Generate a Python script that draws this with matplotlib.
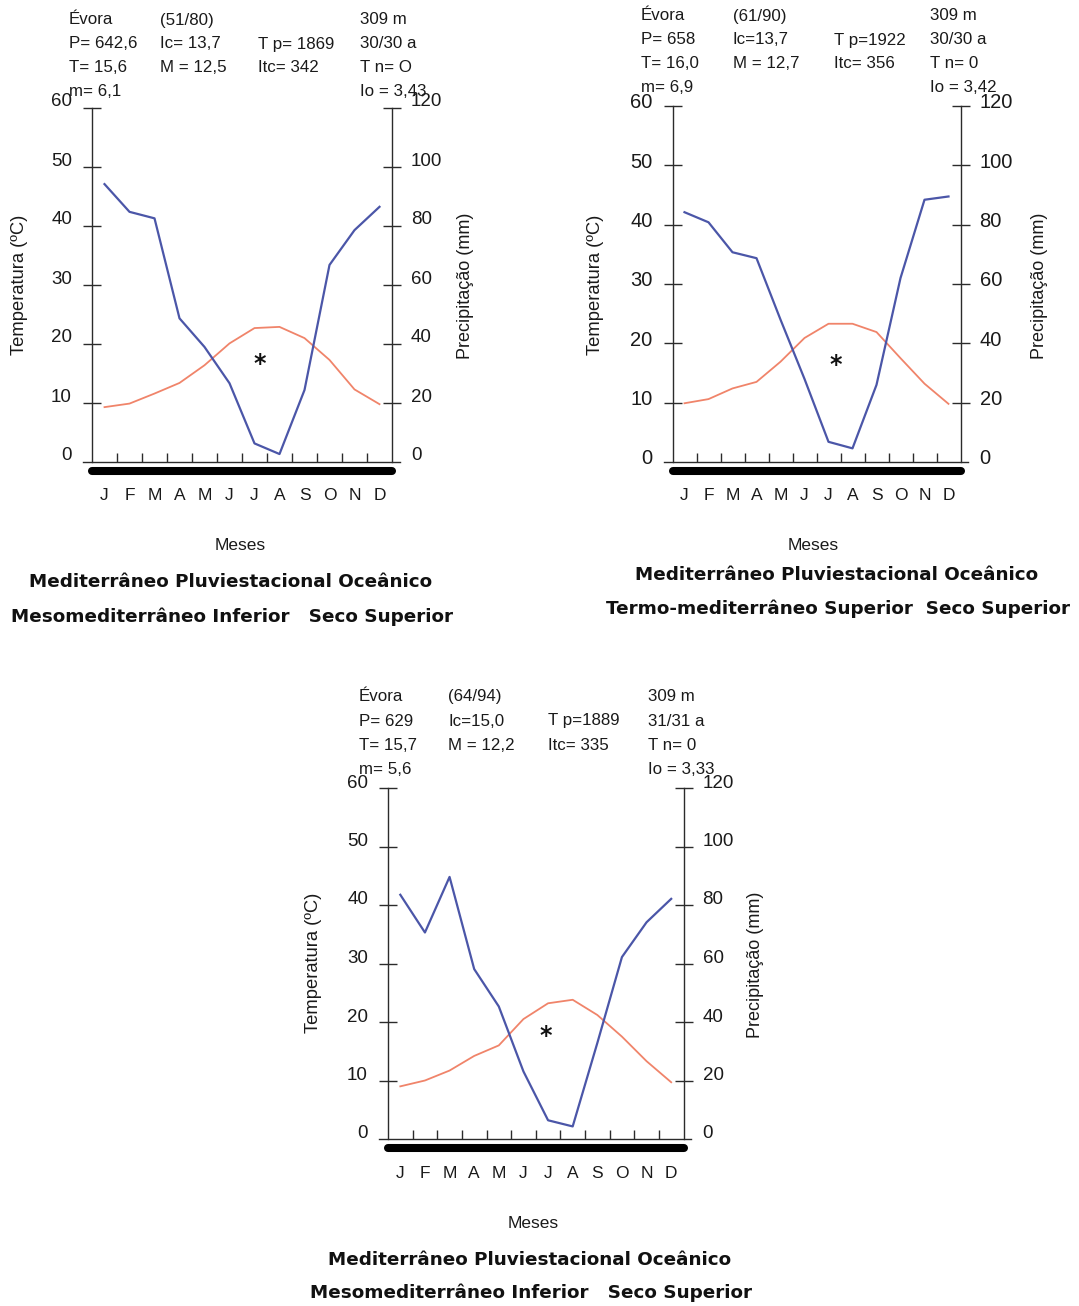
import matplotlib
matplotlib.use('Agg')
import matplotlib.pyplot as plt
from matplotlib.transforms import offset_copy

W, H = 1079, 1306
DPI = 100

months = ['J', 'F', 'M', 'A', 'M', 'J', 'J', 'A', 'S', 'O', 'N', 'D']
temp_ticks = [0, 10, 20, 30, 40, 50, 60]
prec_ticks = [0, 20, 40, 60, 80, 100, 120]

# Panel 1: Évora 51/80
temp_1 = [9.3, 9.9, 11.6, 13.4, 16.4, 20.1, 22.7, 22.9, 21.0, 17.3, 12.3, 9.8]
prec_1 = [94.2, 84.8, 82.6, 48.7, 39.0, 26.7, 6.3, 2.7, 24.4, 66.8, 78.6, 86.5]
# Panel 2: Évora 61/90
temp_2 = [9.9, 10.6, 12.4, 13.5, 16.9, 20.9, 23.3, 23.3, 21.9, 17.5, 13.2, 9.8]
prec_2 = [84.2, 80.8, 70.7, 68.7, 48.0, 28.0, 6.8, 4.6, 26.0, 62.0, 88.4, 89.5]
# Panel 3: Évora 64/94
temp_3 = [9.0, 10.0, 11.7, 14.2, 16.0, 20.5, 23.2, 23.8, 21.2, 17.5, 13.3, 9.7]
prec_3 = [83.5, 70.6, 89.6, 58.1, 45.3, 23.1, 6.4, 4.3, 32.8, 62.2, 74.1, 82.1]

header_1 = [["Évora", "(51/80)", "", "309 m"],
            ["P= 642,6", "Ic= 13,7", "T p= 1869", "30/30 a"],
            ["T= 15,6", "M = 12,5", "Itc= 342", "T n= O"],
            ["m= 6,1", "", "", "Io = 3,43"]]
header_2 = [["Évora", "(61/90)", "", "309 m"],
            ["P= 658", "Ic=13,7", "T p=1922", "30/30 a"],
            ["T= 16,0", "M = 12,7", "Itc= 356", "T n= 0"],
            ["m= 6,9", "", "", "Io = 3,42"]]
header_3 = [["Évora", "(64/94)", "", "309 m"],
            ["P= 629", "Ic=15,0", "T p=1889", "31/31 a"],
            ["T= 15,7", "M = 12,2", "Itc= 335", "T n= 0"],
            ["m= 5,6", "", "", "Io = 3,33"]]

titles_1 = ["Mediterrâneo Pluviestacional Oceânico",
            "Mesomediterrâneo Inferior   Seco Superior"]
titles_2 = ["Mediterrâneo Pluviestacional Oceânico",
            "Termo-mediterrâneo Superior  Seco Superior"]
titles_3 = ["Mediterrâneo Pluviestacional Oceânico",
            "Mesomediterrâneo Inferior   Seco Superior"]

star_pos = [(6.72, 16.6), (6.8, 16.3), (6.4, 17.6)]

panels = [
    dict(temp=temp_1, prec=prec_1, header=header_1, titles=titles_1, star=star_pos[0],
         ax_l=92, ax_r=392, y0=462, y60=108,
         hx=[69, 160, 258, 360], hy=[20, 44, 67, 91],
         tlab=(20, 285), plab=(466, 286), meses=(240, 546),
         ttl=[(231, 582), (232, 617)], tfs=13.5, toff=6),
    dict(temp=temp_2, prec=prec_2, header=header_2, titles=titles_2, star=star_pos[1],
         ax_l=672.5, ax_r=960.5, y0=462, y60=106,
         hx=[641, 733, 834, 930], hy=[16, 40, 63, 88],
         tlab=(596, 285), plab=(1040, 286), meses=(813, 546),
         ttl=[(837, 575), (838, 609)], tfs=14.5, toff=3),
    dict(temp=temp_3, prec=prec_3, header=header_3, titles=titles_3, star=star_pos[2],
         ax_l=388, ax_r=683.5, y0=1139, y60=788,
         hx=[359, 448, 548, 648], hy=[697, 721, 745, 769],
         tlab=(314, 963), plab=(756, 965), meses=(533, 1223),
         ttl=[(530, 1260), (531, 1293)], tfs=13.5, toff=5),
]

plt.rcParams['font.family'] = ['Liberation Sans', 'DejaVu Sans']

BLUE = '#4B56A8'
ORANGE = '#F0846A'
AXC = '#2b2b2b'

fig = plt.figure(figsize=(W / DPI, H / DPI), dpi=DPI)
fig.patch.set_facecolor('white')


def fx(x):
    return x / W


def fy(y):
    return 1 - y / H


for p in panels:
    left = fx(p['ax_l'])
    width = (p['ax_r'] - p['ax_l']) / W
    bottom = fy(p['y0'])
    height = (p['y0'] - p['y60']) / H
    ax = fig.add_axes([left, bottom, width, height])
    ax2 = ax.twinx()
    ax.set_xlim(0, 12)
    ax.set_ylim(0, 60)
    ax2.set_ylim(0, 120)
    ax.patch.set_alpha(0)

    for s in ['top', 'right', 'bottom']:
        ax.spines[s].set_visible(False)
    for s in ['top', 'left', 'bottom']:
        ax2.spines[s].set_visible(False)
    ax.spines['left'].set_color(AXC)
    ax.spines['left'].set_linewidth(1.0)
    ax2.spines['right'].set_color(AXC)
    ax2.spines['right'].set_linewidth(1.0)

    ax.set_xticks(range(1, 12))
    ax.tick_params(axis='x', direction='in', length=6.5, width=1.0, color=AXC,
                   labelbottom=False)
    ax.set_yticks(temp_ticks[1:])
    ax.tick_params(axis='y', direction='inout', length=13.5, width=1.0, color=AXC,
                   labelleft=False)
    ax2.set_yticks(prec_ticks[1:])
    ax2.tick_params(axis='y', direction='inout', length=13.5, width=1.0, color=AXC,
                    labelright=False)

    # tick labels
    tl = offset_copy(ax.transData, fig=fig, x=-20, y=p['toff'], units='dots')
    for v in temp_ticks:
        ax.text(0, v, str(v), transform=tl, ha='right', va='center',
                fontsize=p['tfs'], color='#1a1a1a', clip_on=False)
    tr = offset_copy(ax2.transData, fig=fig, x=19, y=p['toff'], units='dots')
    for v in prec_ticks:
        ax2.text(12, v, str(v), transform=tr, ha='left', va='center',
                 fontsize=p['tfs'], color='#1a1a1a', clip_on=False)
    tm = offset_copy(ax.transData, fig=fig, y=-34, units='dots')
    for i, m in enumerate(months):
        ax.text(i + 0.5, 0, m, transform=tm, ha='center', va='center',
                fontsize=12.5, color='#1a1a1a', clip_on=False)

    # axis line and thick bar
    ax.plot([-0.36, 12.3], [0, 0], color=AXC, lw=1.0, clip_on=False, zorder=3)
    tb = offset_copy(ax.transData, fig=fig, y=-9, units='dots')
    ax.plot([0, 12], [0, 0], transform=tb, color='black', lw=5.8,
            solid_capstyle='round', clip_on=False, zorder=3)

    xs = [i + 0.5 for i in range(12)]
    ax.plot(xs, p['temp'], color=ORANGE, lw=1.3, zorder=4)
    ax2.plot(xs, p['prec'], color=BLUE, lw=1.6, zorder=4)

    sx, sy = p['star']
    ax.text(sx, sy, '*', fontsize=17, fontweight='bold', ha='center', va='center',
            family='DejaVu Sans', color='#111111')

    # header
    for r, row in enumerate(p['header']):
        for c, txt in enumerate(row):
            if txt:
                fig.text(fx(p['hx'][c]), fy(p['hy'][r]), txt, ha='left', va='center',
                         fontsize=12.2, color='#1a1a1a')

    fig.text(fx(p['tlab'][0]), fy(p['tlab'][1]), 'Temperatura (ºC)', rotation=90,
             ha='center', va='center', fontsize=13.2, color='#1a1a1a')
    fig.text(fx(p['plab'][0]), fy(p['plab'][1]), 'Precipitação (mm)', rotation=90,
             ha='center', va='center', fontsize=13, color='#1a1a1a')
    fig.text(fx(p['meses'][0]), fy(p['meses'][1]), 'Meses', ha='center', va='center',
             fontsize=12.5, color='#1a1a1a')
    for (tx, ty), t in zip(p['ttl'], p['titles']):
        fig.text(fx(tx), fy(ty), t, ha='center', va='center', fontsize=13.2,
                 fontweight='bold', family='DejaVu Sans', color='#111111')

fig.savefig('out.png', dpi=DPI, facecolor='white')
